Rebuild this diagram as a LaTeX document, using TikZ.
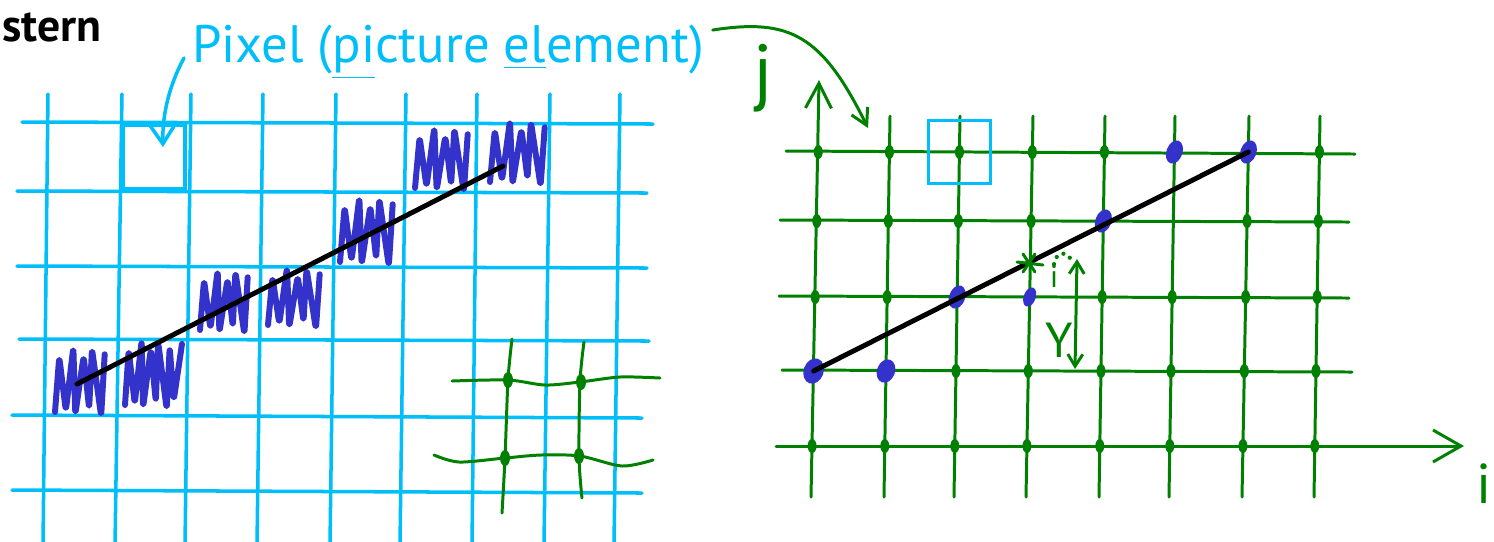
\documentclass[tikz,border=0pt]{standalone}
\usepackage{fontspec}
\setmainfont{PT Sans}
\usetikzlibrary{arrows.meta}
\definecolor{pixcyan}{RGB}{0,190,250}
\definecolor{gridgreen}{RGB}{0,128,0}
\definecolor{scribblue}{RGB}{51,51,204}
\newcommand{\scrib}[5]{%
  \draw[scribble] (#1,#4) \foreach \k in {1,...,#5}{ -- ({#1+(#3-#1)*\k/#5+2*cos(\k*131)},{#2+(#4-#2)*mod(\k+1,2)+5*sin(\k*97)}) };}

\begin{document}
\begin{tikzpicture}[x=0.1mm,y=-0.1mm,
  cyangrid/.style={pixcyan,line width=1pt,line cap=round},
  greengrid/.style={gridgreen,line width=0.85pt,line cap=round},
  scribble/.style={scribblue,line width=1.7pt,line cap=round,line join=round,rounded corners=1.5pt},
  rayline/.style={black,line width=1.4pt,line cap=round},
  pxbox/.style={draw=pixcyan,line width=1pt,minimum width=6.2mm,minimum height=6.3mm,inner sep=0pt},
  lbl/.style={inner sep=0pt}]
\useasboundingbox (0,0) rectangle (1494,541);

% TOP: heading and the pixel label
\node[lbl,anchor=base west,font=\bfseries\fontsize{13}{15}\selectfont] (title) at (2,41) {stern};
\node[lbl,anchor=base,pixcyan,font=\fontsize{15}{18}\selectfont] (pixtxt) at (448,62)
  {Pixel (\underline{pi}cture \underline{el}ement)};

% LEFT: raster filled cell by cell
\foreach \xt/\xb in {48/43,122/115,191/185,263/257,336/330,406/400,477/472,550/544,620/614}
  \draw[cyangrid] (\xt,94) -- (\xb,545);
\foreach \xl/\yl/\xr/\yr in {22/122/653/124,17/191/647/193,17/266/647/268,19/339/649/341,12/415/642/418,12/490/642/493}
  \draw[cyangrid] (\xl,\yl) -- (\xr,\yr);
\node[pxbox] (pixL) at (154,157) {};
\coordinate (pxfrom) at (184,58);
\coordinate (pxtip) at (163,147);
\draw[cyangrid,-{Straight Barb[length=1.8mm,width=2.4mm]}] (pxfrom) .. controls (172,80) and (162,110) .. (pxtip);

\scrib{55}{352}{105}{412}{9}
\scrib{125}{345}{180}{405}{11}
\scrib{200}{275}{248}{330}{9}
\scrib{268}{272}{320}{325}{9}
\scrib{340}{202}{393}{262}{9}
\scrib{415}{132}{468}{188}{9}
\scrib{490}{125}{545}{182}{9}
\coordinate (la) at (77,384);
\coordinate (lb) at (503,166);
\draw[rayline] (la) -- (lb);

% small sample points drawn over the raster
\draw[greengrid] plot[smooth] coordinates {(512,339) (508,380) (505,458) (502,513)};
\draw[greengrid] plot[smooth] coordinates {(584,342) (580,382) (579,457) (582,498)};
\draw[greengrid] plot[smooth] coordinates {(452,381) (508,380) (545,385) (580,382) (620,377) (660,378)};
\draw[greengrid] plot[smooth] coordinates {(434,455) (459,462) (505,458) (541,455) (580,456) (622,466) (653,460)};
\foreach \p in {(508,380),(581,382),(505,458),(579,456)}
  \fill[gridgreen] \p ellipse (5 and 8);

% RIGHT: sample grid with axes i and j
\foreach \c/\xt/\xb in {0/819/811,1/890/884,2/960/954,3/1033/1026,4/1105/1099,5/1175/1169,6/1249/1242,7/1320/1314} {
  \coordinate (vt\c) at (\xt,116);
  \coordinate (vb\c) at (\xb,497);
  \foreach \r/\y in {0/152,1/221,2/297,3/371,4/446}
    \coordinate (p\c\r) at ({\xt+(\xb-\xt)*(\y-116)/381},\y);
}
\foreach \r/\xl/\yl/\xr/\yr in {0/786/151/1355/154,1/780/220/1349/222,2/779/296/1349/298,3/782/370/1352/372,4/776/446/1317/447} {
  \coordinate (hl\r) at (\xl,\yl);
  \coordinate (hr\r) at (\xr,\yr);
}
\foreach \c in {1,...,7}
  \draw[greengrid] (vt\c) -- (vb\c);
\foreach \r in {0,...,3}
  \draw[greengrid] (hl\r) -- (hr\r);
\coordinate (jtip) at (819,80);
\coordinate (itip) at (1464,446);
\draw[greengrid,-{Straight Barb[length=2.5mm,width=2.6mm]}] (vb0) -- (jtip);
\draw[greengrid,-{Straight Barb[length=2.8mm,width=3.2mm]}] (hl4) -- (itip);
\node[lbl,gridgreen,font=\fontsize{21}{21}\selectfont] (jlab) at (763,78) {j};
\node[lbl,gridgreen,font=\fontsize{16}{16}\selectfont] (ilab) at (1484,484) {i};

\node[pxbox] (pixR) at (p20) {};
\coordinate (gridpt) at (868,128);
\draw[greengrid,-{Straight Barb[length=1.6mm,width=1.8mm]}] (pixtxt.east) ++(8,-22) .. controls (790,18) and (822,35) .. (gridpt);

% sample points, the chosen ones in blue
\foreach \c/\r in {0/0,1/0,2/0,3/0,4/0,7/0,0/1,1/1,2/1,3/1,6/1,7/1,0/2,1/2,4/2,5/2,6/2,7/2,
                   2/3,3/3,4/3,5/3,6/3,7/3,0/4,1/4,2/4,3/4,4/4,5/4,6/4,7/4}
  \fill[gridgreen] (p\c\r) ellipse (4.5 and 7);
\foreach \c/\r/\rx/\ry in {0/3/10/13,1/3/9/12,2/2/8/12,3/2/6/10,4/1/8/12,5/0/8/12,6/0/8/12}
  \fill[scribblue,rotate around={-20:(p\c\r)}] (p\c\r) ellipse [x radius=\rx, y radius=\ry];
\draw[rayline] (p03) -- (p60);

% distance from the line down to the next sample row
\coordinate (xmark) at (1029,263);
\draw[greengrid] (xmark) +(-12,-1) -- +(14,2) (xmark) +(-6,-9) -- +(6,9) (xmark) +(-6,9) -- +(6,-9);
\node[lbl,gridgreen,font=\fontsize{9}{9}\selectfont] (ismall) at (1054,276) {i};
\coordinate (ytop) at (1077,259);
\coordinate (ybot) at (1075,369);
\draw[greengrid,line width=1.2pt,dash pattern=on 0pt off 2.2pt] (ismall.north) .. controls (1056,252) and (1065,251) .. (1070,258);
\draw[greengrid,{Straight Barb[length=1.2mm,width=1.5mm]}-{Straight Barb[length=1.2mm,width=1.5mm]}] (ytop) -- (ybot);
\node[lbl,gridgreen,font=\fontsize{14}{14}\selectfont] (ylab) at (1059,340) {Y};
\end{tikzpicture}
\end{document}
